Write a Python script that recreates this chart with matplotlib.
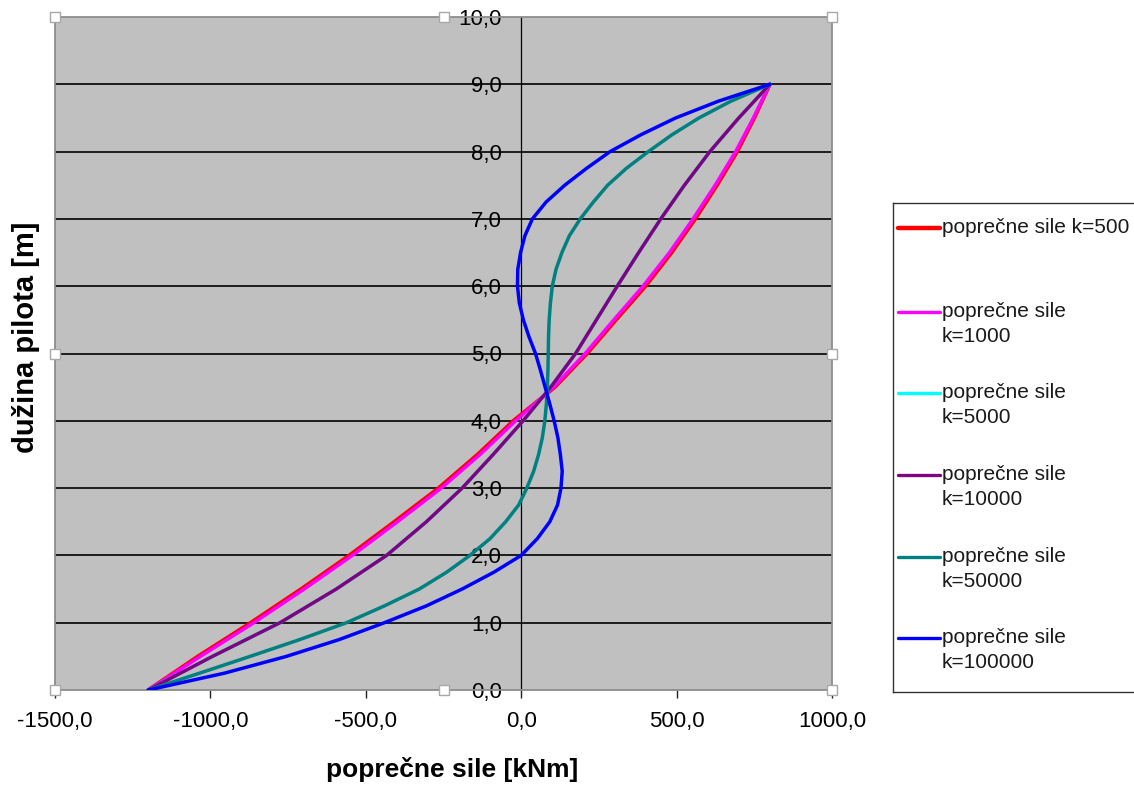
import matplotlib
matplotlib.use('Agg')
import matplotlib.pyplot as plt
from matplotlib.ticker import FuncFormatter

plt.rcParams['font.family'] = ['Liberation Sans', 'DejaVu Sans']

# dubina (m) - korak 0.5 i 0.25
depth = [0.0, 0.5, 1.0, 1.5, 2.0, 2.5, 3.0, 3.5, 4.0, 4.5,
         5.0, 5.5, 6.0, 6.5, 7.0, 7.5, 8.0, 8.5, 9.0]
depth_fine = [0.0, 0.25, 0.5, 0.75, 1.0, 1.25, 1.5, 1.75, 2.0, 2.25,
              2.5, 2.75, 3.0, 3.25, 3.5, 3.75, 4.0, 4.25, 4.5, 4.75,
              5.0, 5.25, 5.5, 5.75, 6.0, 6.25, 6.5, 6.75, 7.0, 7.25,
              7.5, 7.75, 8.0, 8.25, 8.5, 8.75, 9.0]

# poprecne sile [kNm] ocitane sa grafa
k500 = [-1200, -1040, -870, -708, -553, -408, -266, -140, -25, 108,
        212, 305, 400, 484, 560, 630, 695, 750, 800]
k1000 = [-1200, -1032, -860, -698, -543, -398, -257, -132, -18, 104,
         206, 298, 392, 477, 553, 624, 690, 747, 800]
k5000 = [-1200, -993, -776, -595, -433, -305, -190, -90, 6, 95,
         175, 242, 309, 378, 449, 525, 607, 700, 800]
k10000 = [-1200, -993, -776, -595, -433, -305, -190, -90, 6, 95,
          175, 242, 309, 378, 449, 525, 607, 700, 800]
k50000 = [-1200, -1035, -872, -712, -562, -440, -328, -240, -165, -100,
          -50, -8, 18, 40, 56, 68, 76, 81, 84, 86,
          87, 88, 90, 94, 100, 112, 131, 155, 190, 232,
          278, 338, 409, 485, 572, 675, 800]
k100000 = [-1200, -955, -755, -585, -440, -305, -190, -88, 0, 52,
           92, 117, 128, 132, 126, 118, 106, 92, 77, 62,
           46, 25, 7, -6, -12, -11, -2, 12, 36, 80,
           140, 210, 286, 385, 497, 635, 800]

labels = ['poprečne sile k=500', 'poprečne sile\nk=1000', 'poprečne sile\nk=5000',
          'poprečne sile\nk=10000', 'poprečne sile\nk=50000', 'poprečne sile\nk=100000']
colors = ['#FF0000', '#FF00FF', '#00FFFF', '#800080', '#008080', '#0000FF']

W, H = 1134, 791
fig = plt.figure(figsize=(W / 100, H / 100), dpi=100)
ax = fig.add_axes([55 / W, 101 / H, 777 / W, 673 / H])
ax.set_facecolor('#C0C0C0')
ax.set_xlim(-1500, 1000)
ax.set_ylim(0, 10)

for y in range(1, 10):
    ax.axhline(y, color='black', lw=1.2, zorder=1)

series = [(k500, depth), (k1000, depth), (k5000, depth),
          (k10000, depth), (k50000, depth_fine), (k100000, depth_fine)]
for i, (vals, d) in enumerate(series):
    ax.plot(vals, d, color=colors[i], lw=2.8 if i == 0 else 2.5,
            zorder=3, solid_capstyle='round', solid_joinstyle='round')

fmt = FuncFormatter(lambda v, p: f'{v:.1f}'.replace('.', ','))
ax.set_xticks([-1500, -1000, -500, 0, 500, 1000])
ax.set_yticks(range(0, 11))
ax.xaxis.set_major_formatter(fmt)
ax.yaxis.set_major_formatter(fmt)

for s in ['top', 'right', 'bottom']:
    ax.spines[s].set_color('#8c8c8c')
    ax.spines[s].set_linewidth(1.3)
ax.spines['left'].set_position(('data', 0))
ax.spines['left'].set_color('black')
ax.spines['left'].set_linewidth(0.9)
ax.spines['left'].set_zorder(2)
ax.axvline(-1500, color='#8c8c8c', lw=1.3, clip_on=False, zorder=2)

ax.tick_params(axis='y', length=0, pad=14, labelsize=16)
ax.tick_params(axis='x', length=6, width=1, color='#202020', pad=9, labelsize=16)

# Excel rucke za selekciju
hx = [0, 0.5, 1, 0, 1, 0, 0.5, 1]
hy = [1, 1, 1, 0.5, 0.5, 0, 0, 0]
ax.plot(hx, hy, 's', ms=7, mfc='white', mec='#a8a8a8', mew=1,
        transform=ax.transAxes, clip_on=False, zorder=5)

fig.text(452 / W, 1 - 770 / H, 'poprečne sile [kNm]', ha='center', va='center',
         fontsize=19, fontweight='bold')
fig.text(26 / W, 1 - 337 / H, 'dužina pilota [m]', ha='center', va='center',
         rotation=90, fontsize=21, fontweight='bold')

# legenda (pikselske koordinate)
lg = fig.add_axes([893 / W, 1 - 692 / H, (1140 - 893) / W, (692 - 203) / H])
lg.set_xlim(893, 1140)
lg.set_ylim(692, 203)
lg.set_xticks([])
lg.set_yticks([])
for s in lg.spines.values():
    s.set_color('#333333')
    s.set_linewidth(1.0)
rows = [228, 312, 393, 475, 557, 638]
for i, lab in enumerate(labels):
    yy = rows[i]
    lg.plot([898, 940], [yy, yy], color=colors[i], lw=3.2 if i == 0 else 2.4,
            solid_capstyle='round')
    for j, line in enumerate(lab.split('\n')):
        lg.text(942, yy + 25 * j, line, va='center', ha='left', fontsize=15,
                color='#1a1a1a')

fig.savefig('out.png', dpi=100)
